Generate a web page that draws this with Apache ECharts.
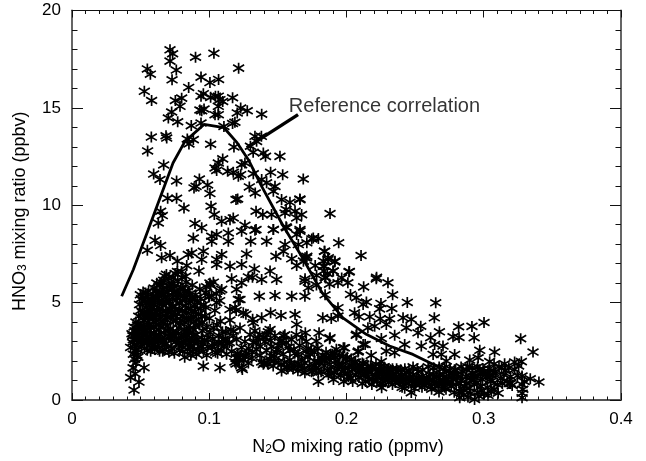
<!DOCTYPE html>
<html><head><meta charset="utf-8">
<script src="https://cdn.jsdelivr.net/npm/echarts@6/dist/echarts.min.js"></script>
<style>html,body{margin:0;padding:0;background:#fff}#c{width:646px;height:461px}</style></head>
<body><div id="c"></div>
<script>
const xTickLabels = ['0','0.1','0.2','0.3','0.4'];
const yTickLabels = ['0','5','10','15','20'];
const refN2O = [.0362,.0447,.0556,.0736,.0823,.0962,.1107,.1204,.1285,.1382,.154,.1673,.1823,.1974,.2144,.2314,.2484,.263,.2752,.285];
const refHNO3 = [5.33,6.7,8.75,12.17,13.28,14.15,13.98,13.2,12.34,10.97,8.92,7.38,5.5,4.22,3.37,2.77,2.34,1.83,1.4,1.1];
const arrowFrom = [.1647,14.65];
const arrowTo = [.1273,12.96];
const labelAt = [.158,15.05];
const upperPoints = [
[.0714,17.98],[.0733,17.78],[.0714,17.4],[.076,16.94],[.09,17.6],[.1034,17.8],[.0549,17],[.0571,16.73],[.0729,16.44],[.094,16.58],[.1005,16.3],[.1068,16.46],[.1214,17.04],[.085,16.05],[.0527,15.85],[.058,15.38],[.0753,15.38],[.0799,15.5],[.0787,15.08],[.0957,15.73],[.094,15.6],[.101,15.54],[.1066,15.6],[.1078,15.42],[.1098,15.33],[.117,15.52],[.1066,15.08],[.1045,15.6],[.0726,14.79],[.0702,14.48],[.077,14.29],[.0932,14.89],[.0962,14.94],[.0945,14.85],[.1042,14.65],[.1066,14.65],[.1229,14.99],[.1204,14.74],[.1277,14.85],[.1382,14.67],[.0869,14.09],[.094,14.22],[.1107,14.05],[.1187,14.26],[.117,14.2],[.0578,13.5],[.0685,13.57],[.069,13.45],[.084,13.4],[.0884,13.37],[.0852,13.15],[.101,13.13],[.0551,12.79],[.118,12.99],[.1333,13.54],[.138,13.54],[.1345,13.28],[.13,13.03],[.132,12.72],[.1394,12.68],[.141,12.51],[.1515,12.51],[.1098,12.38],[.1066,12.17],[.1042,11.91],[.1054,11.79],[.126,12.17],[.1236,12.08],[.0668,12.07],[.0595,11.6],[.0641,11.32],[.0762,11.25],[.1134,11.74],[.1175,11.69],[.1212,11.49],[.1229,11.57],[.1321,11.62],[.1447,11.69],[.1535,11.57],[.1685,11.35],[.0928,11.35],[.0904,10.97],[.0889,10.89],[.0988,11.04],[.1292,10.94],[.1382,11.32],[.1418,11.15],[.1479,10.97],[.1467,10.72],[.1005,10.6],[.1335,10.63],[.0697,10.36],[.0762,10.36],[.0816,9.86],[.1195,10.29],[.1207,10.32],[.1527,10.29],[.1588,10.15],[.1661,10.29],[.1013,9.95],[.1037,9.52],[.1341,9.69],[.139,9.52],[.1454,9.52],[.1552,9.6],[.156,9.78],[.1625,9.69],[.1673,9.52],[.1637,9.35],[.0646,9.69],[.0658,9.47],[.0629,9.09],[.109,9.18],[.1151,9.26],[.1175,9.35],[.0896,9.06],[.0945,8.84],[.126,8.97],[.1341,8.75],[.1467,8.75],[.156,8.89],[.1661,8.75],[.188,9.57],[.166,10.32]
];
const middlePoints = [
[.0605,8.2],[.0646,7.93],[.0549,7.69],[.0884,8.32],[.0872,7.55],[.0957,7.64],[.0945,7.21],[.0847,7.47],[.1018,8.41],[.1054,8.5],[.1018,8.15],[.1139,8.58],[.1139,8.15],[.1236,8.67],[.1333,8.72],[.1302,8.15],[.1418,8.15],[.1467,8.75],[.1552,7.98],[.154,7.64],[.1564,8.84],[.1661,8.67],[.1637,8.5],[.1758,8.32],[.1795,8.29],[.1747,8.27],[.1943,8.07],[.1711,8.07],[.1649,7.98],[.1839,7.64],[.2106,7.42],[.1711,7.38],[.1868,7.3],[.1916,7.13],[.1831,7.13],[.1831,6.87],[.1835,6.62],[.1904,6.62],[.2021,6.6],[.1686,7.13],[.1698,7.3],[.1637,6.9],[.1601,7.25],[.2219,6.3],[.1965,6.27],[.1844,6.3],[.1698,6.22],[.0653,7.3],[.0714,7.42],[.0768,7.13],[.0836,6.9],[.0925,6.62],[.1272,7.5],[.1091,7.47],[.1054,7.21],[.1054,6.96],[.1236,6.96],[.1151,6.87],[.1486,7.38],[.1709,7.3],[.1329,6.73],[.1443,6.62],[.1163,6.22],[.1285,6.32],[.1315,6.3],[.1382,6.19],[.1491,6.19],[.1697,6.1],[.1236,6.02],[.1199,5.68],[.103,6.05],[.1091,5.68],[.1224,5.16],[.1365,5.33],[.1479,5.37],[.1601,5.33],[.1697,5.33],[.1722,5.76],[.1188,4.74],[.0981,5.81],[.1,5.3],[.1054,5.0],[.1196,4.6],[.1267,4.4],[.1316,4.15],[.1447,4.48],[.1523,4.34],[.1625,4.39],[.1637,3.88],[.1827,4.22],[.1382,4.22],[.1321,3.97],[.1443,3.62],[.154,3.28],[.17,3.45],[.18,3.45],[.188,3.2],[.178,3.03],[.2074,3.37],[.2136,2.85],[.1977,2.68],[.2087,2.51],[.1781,5.9],[.1782,6.4],[.1844,5.4],[.1876,5.95],[.186,6.5],[.1772,6.9],[.1889,4.18]
];
const denseCluster = [
[.0447,3.1],[.0427,2.7],[.0437,3.4],[.0452,3.75],[.0447,2.35],[.0456,2.85],[.0461,3.3],[.0466,4.0],[.0471,2.6],[.0476,3.55],[.0456,2.1],[.0466,1.9],[.0481,2.95],[.0486,4.3],[.0491,3.2],[.0496,3.8],[.0501,4.6],[.0506,2.75],[.0511,3.4],[.0516,5.1],[.0521,4.1],[.0526,2.9],[.0531,3.6],[.0536,5.5],[.0541,4.75],[.0546,3.1],[.0551,5.3],[.0556,4.2],[.0561,2.8],[.0566,3.9],[.0571,5.0],[.0576,3.4],[.0581,4.55],[.0586,2.65],[.0591,5.35],[.0596,3.75],[.0601,4.9],[.0606,3.1],[.0611,5.6],[.0616,4.35],[.0621,2.75],[.0626,5.2],[.0631,3.6],[.0636,4.7],[.0641,5.9],[.0646,3.15],[.0651,6.05],[.0656,4.05],[.0661,2.5],[.0666,5.45],[.0671,3.45],[.0676,6.35],[.0681,4.6],[.0686,2.9],[.0691,5.75],[.0696,3.8],[.0701,6.25],[.0706,2.45],[.0711,5.05],[.0716,4.25],[.0721,3.05],[.0726,6.0],[.0731,4.8],[.0736,3.5],[.0741,5.5],[.0746,2.4],[.0751,6.5],[.0756,4.1],[.0761,3.0],[.0766,5.25],[.0771,6.1],[.0776,3.7],[.0781,4.65],[.0786,2.55],[.0791,5.75],[.0796,3.3],[.0801,6.3],[.0806,4.3],[.0811,2.9],[.0816,5.35],[.0821,2.2],[.0826,4.85],[.0831,6.05],[.0836,3.55],[.0841,2.6],[.0846,5.6],[.0851,4.1],[.0856,3.1],[.0861,5.05],[.0866,2.3],[.0871,4.55],[.0876,5.9],[.0881,3.3],[.0886,2.6],[.0891,4.8],[.0896,3.85],[.0901,5.4],[.0906,2.35],[.0911,3.1],[.0921,4.4],[.0931,5.7],[.0941,2.75],[.0951,3.55],[.0961,4.9],[.0971,5.5],[.0981,2.3],[.0991,3.2],[.1001,4.2],[.1011,5.9],[.1021,2.7],[.1031,3.7],[.1041,4.6],[.1051,5.45],[.1061,2.4],[.1071,3.3],[.1081,4.05],[.1091,2.9],[.0957,1.74],[.1078,1.66],[.0525,1.66],[.0427,1.15],[.0488,.92],[.0452,.51],[.046,1.35],[.0445,1.65],[.048,2.2],
[.0441,2.95],[.0462,2.5],[.0478,3.85],[.0498,3.0],[.0513,4.5],[.0523,3.3],[.0538,4.3],[.0549,3.65],[.0563,4.85],[.0578,5.2],[.0593,3.0],[.0608,4.0],[.0623,4.6],[.0638,3.35],[.0653,4.9],[.0668,3.95],[.0683,5.3],[.0698,4.5],[.0713,3.4],[.0728,5.7],[.0743,4.35],[.0758,5.1],[.0773,2.9],[.0788,3.95],[.0803,5.1],[.0818,3.6],[.0833,4.5],[.0848,2.85],[.0863,3.7],[.0878,2.5],[.0893,5.2],[.0908,4.1],[.0923,2.55],[.0938,5.2],[.0953,2.9],[.0968,4.3],[.0983,3.75],[.0498,5.4],[.0518,5.55],[.0558,5.6],[.0598,5.75],[.0658,5.7],[.0678,2.6],[.0728,2.65],[.0808,2.5],[.0508,3.65],[.0528,2.65],[.0548,2.55],[.0573,2.5],[.0603,2.6],[.0638,2.5],[.0668,3.0],[.0468,3.15],[.0488,3.5],[.0458,3.55],[.0443,3.3],[.0473,2.3]
];
const denseExtra = [
[.0492,4.9],[.0505,5.2],[.0512,3.0],[.0519,3.85],[.0528,4.4],[.0533,5.05],[.0539,3.4],[.0544,2.95],[.0549,4.5],[.0553,3.85],[.0558,5.05],[.0563,3.25],[.0568,4.3],[.0573,3.7],[.0578,4.7],[.0583,3.05],[.0588,4.2],[.0592,5.05],[.0598,3.45],[.0603,4.45],[.0608,5.25],[.0613,3.3],[.0618,3.85],[.0623,5.45],[.0628,3.0],[.0633,4.15],[.0638,5.05],[.0643,4.4],[.0648,3.75],[.0653,5.45],[.0658,3.05],[.0663,4.55],[.0668,5.05],[.0673,2.85],[.0678,4.15],[.0683,3.6],[.0688,5.05],[.0693,4.25],[.0698,5.5],[.0703,3.25],[.0708,4.7],[.0713,5.85],[.0718,3.65],[.0723,4.5],[.0728,3.25],[.0733,5.25],[.0738,4.05],[.0743,5.85],[.0748,3.3],[.0753,4.65],[.0758,5.6],[.0763,3.5],[.0768,4.4],[.0773,5.5],[.0778,3.15],[.0783,4.95],[.0788,5.35],[.0793,4.1],[.0798,2.75],[.0803,4.6],[.0808,5.75],[.0813,3.25],[.0818,4.0],[.0823,5.6],[.0828,3.05],[.0833,5.25],[.0838,4.2],[.0843,3.3],[.0848,4.7],[.0853,3.6],[.0858,5.45],[.0863,2.7],[.0868,4.15],[.0873,3.05],[.0878,5.2],[.0883,4.3],[.0888,3.6],[.0893,2.9],[.0898,4.55],[.0903,3.35],[.0913,5.0],[.0918,2.95],[.0928,3.85],[.0935,4.7],[.0943,3.2],[.0948,4.0],[.0958,2.5],[.0966,3.05],[.0975,4.75],[.0988,2.75],[.0996,5.3],[.1006,3.45],[.1016,5.35],[.1026,3.15],[.1036,2.9],[.1046,2.45],[.1056,3.85],[.1066,2.95],[.1076,5.1],[.1086,2.55],[.1096,3.5],[.1106,2.75],[.1116,3.15],[.1126,2.35],[.1146,2.95],[.1158,3.6],
[.0618,6.0],[.0668,6.15],[.0688,6.45],[.0738,6.3],[.0768,6.6],[.0798,6.6],[.0828,6.35],[.1005,6.0],[.1078,5.6],[.1212,5.16],[.1151,4.65],[.0945,4.3],[.1175,3.54],[.1248,4.48],[.1199,2.17],[.1236,1.66],[.1208,2.4],[.122,2.05],[.1195,1.85],[.1225,2.3]
];
const lowerBand = [
[.1101,3.1],[.112,3.5],[.1134,2.9],[.1151,4.1],[.1163,2.5],[.1175,3.3],[.1187,1.95],[.1199,3.1],[.1212,2.2],[.1224,3.7],[.1241,1.57],[.1236,2.7],[.1248,2.05],[.126,3.0],[.1272,2.4],[.1285,1.9],[.1297,3.35],[.1309,2.15],[.1321,2.95],[.1333,3.55],[.1345,2.6],[.1357,3.2],[.137,2.3],[.1382,1.95],[.1394,1.83],[.1406,3.0],[.1418,2.55],[.143,3.5],[.1442,2.1],[.1454,2.75],[.1466,1.75],[.1478,3.3],[.149,2.45],[.1502,1.95],[.1527,1.49],[.1515,3.0],[.1539,2.35],[.1551,3.35],[.1563,1.7],[.1575,2.7],[.1587,2.05],[.1599,3.1],[.1611,1.6],[.1623,2.4],[.1635,3.35],[.1647,1.85],[.1659,2.8],[.1671,2.1],[.1697,1.4],[.1683,1.6],[.1707,3.0],[.1719,2.2],[.1731,1.75],[.1743,2.55],[.1755,1.5],[.1767,2.0],[.1779,1.65],[.1791,2.65],[.1803,1.95],[.1815,1.45],[.1827,2.3],[.1839,1.75],[.1851,2.45],[.1863,1.5],[.1875,2.05],[.1887,1.7],[.1899,2.35],[.1911,1.4],[.1923,2.0],[.1935,1.6],[.1947,2.3],[.1959,1.25],[.1971,1.85],[.1983,1.5],[.1995,2.1],[.2007,1.35],[.2019,1.75],[.2031,1.1],[.2043,1.55],[.2055,1.95],[.2067,1.3],[.2079,1.7],[.2091,1.15],[.2103,1.5],[.2115,1.9],[.2127,1.25],[.2139,.95],[.2151,1.45],[.2163,1.05],[.2175,1.75],[.2187,1.3],[.2199,.95],[.2211,1.55],[.2223,1.15],[.2235,1.4],[.2247,.85],[.2259,1.2],[.2271,1.6],[.2283,1.0],[.2295,1.35],[.2307,.9],[.2319,1.55],[.2331,1.1],[.2343,1.3],[.2355,.9],[.2367,1.2],[.2379,1.5],[.2391,.95],[.2403,1.25],[.2415,.8],[.2427,1.1],[.2439,1.4],[.2451,.85],[.2463,1.15],[.2475,.95],[.2487,1.3],[.2499,.8],[.2511,1.05],[.2523,1.45],[.2535,.85],[.2547,1.2],[.2559,.95],[.2571,.75],[.2583,1.15],[.2595,.9],[.2607,1.3],[.2619,.7],[.2631,1.05],[.2643,.85],[.2655,1.25],[.2667,.7],[.2679,1.0],[.2691,.85],[.2703,1.3],[.2715,.65],[.2727,1.1],[.2739,.9],[.2751,1.35],[.2763,.7],[.2775,1.05],[.2787,1.55],[.2799,.8],[.2811,1.2],[.2823,.45],[.2835,1.0],[.2847,1.45],[.2859,.7],[.2871,1.2],[.2883,1.7],[.2895,.6],[.2907,1.0],[.2919,1.4],[.2931,.8],[.2943,1.15],[.2955,.4],[.2967,1.55],[.2979,.7],[.2991,1.05],[.3003,.3],[.3015,1.3],[.3027,.65],[.3039,1.6],[.3051,.95],[.3063,1.25],[.3075,.55],[.3087,1.45],[.3099,.8],[.3111,1.7],[.3123,1.1],[.3135,.85],[.3147,1.3],[.3159,1.5],[.3171,.95],[.3183,1.65],[.3195,1.2],[.3207,.75]
];
const lowerExtra = [
[.1371,2.75],[.1401,1.9],[.1426,1.85],[.1451,2.25],[.1473,2.0],[.1498,2.6],[.1523,1.8],[.1548,1.95],[.1573,1.6],[.1597,1.85],[.1622,1.8],[.1646,1.5],[.167,1.75],[.1695,1.9],[.172,2.65],[.1745,1.45],[.1769,1.75],[.1794,1.4],[.1818,2.15],[.1843,2.0],[.1868,1.3],[.1892,1.35],[.1917,2.2],[.1942,1.75],[.1966,1.45],[.1991,1.65],[.2015,1.2],[.204,1.75],[.2065,1.6],[.2089,1.4],[.2114,1.55],[.2138,1.3],[.2163,1.5],[.2188,1.05],[.2212,1.25],[.2237,1.5],[.2262,1.4],[.2286,1.2],[.2311,1.15],[.2335,1.35],[.236,1.05],[.2385,1.1],[.2409,1.0],[.2434,1.05],[.2458,1.1],[.2483,1.05],[.2508,.95],[.2532,1.05],[.2557,1.1],[.2582,.9],[.2606,1.05],[.2631,1.3],[.2655,.9],[.268,1.3],[.2705,.95],[.2729,1.05],[.2754,.95],[.2778,1.1],[.2803,1.3],[.2828,.85],[.2852,.5],[.2877,.85],[.2902,1.15],[.2926,1.2],[.2951,.9],[.2975,1.3],[.3,1.45],[.3025,1.2],[.3049,1.05],[.3074,1.4]
];
const lowerMass = [
[.1262,2.25],[.1288,2.65],[.1315,2.45],[.1342,2.95],[.1368,3.35],[.1395,3.2],[.142,3.35],[.1447,3.05],[.1474,2.25],[.1503,2.8],[.153,3.05],[.156,2.95],[.1588,2.55],[.1617,2.6],[.1647,2.35],[.1676,3.2],[.1705,2.5],[.1735,2.35],[.1765,2.45],[.1795,1.95],[.1825,2.05],[.1855,2.2],[.1885,2.25],[.1915,2.4],[.1945,1.85],[.1975,2.25],[.2005,2.2],[.2035,2.1],[.2065,1.95],[.2095,1.75],[.2125,1.85],[.2155,1.7],[.2185,1.65],[.2215,1.85],[.2245,1.75],[.2275,1.7],[.2305,1.6],[.2335,1.6],[.2365,1.6],[.2395,1.55],[.2425,1.6],[.2455,1.5],[.2485,1.7],[.2515,1.6],[.2555,1.55],[.2595,1.7],[.2635,1.65],[.2675,1.7],[.2715,1.65],[.2755,1.6],[.2795,1.55],[.2835,1.7],[.2875,1.55],[.2915,1.65],[.2955,1.7],[.2995,1.6],[.3035,1.45],[.3075,1.85],
[.1795,.95],[.1905,1.05],[.198,.95],[.2045,.95],[.2115,.85],[.2185,.8],[.2265,.85],[.2335,.8],[.2405,.65],[.2495,.6],[.255,.65],[.262,.55],[.2725,.55],[.2785,.4],[.2855,.25],[.2885,.15],[.2905,.35],[.2965,.2],[.2985,.5],[.3055,.45],[.3105,.35],[.3185,.85],[.3245,1.25],[.3295,.95]
];
const tailPoints = [
[.1841,7.64],[.1865,7.21],[.1914,7.09],[.184,6.87],[.1902,6.62],[.2018,6.58],[.1848,6.27],[.1938,6.02],[.201,6.02],[.2217,6.22],[.2302,6.02],[.2125,5.81],[.2336,5.4],[.2029,5.42],[.2072,5.25],[.2145,5.03],[.2121,4.91],[.2443,5.01],[.265,4.99],[.2251,4.96],[.2241,4.68],[.233,4.7],[.1938,4.74],[.1938,4.31],[.2059,4.48],[.2091,4.27],[.2169,4.27],[.2246,4.17],[.2314,4.17],[.2412,4.22],[.2472,4.14],[.264,4.22],[.3002,3.98],[.2914,3.78],[.2817,3.76],[.2541,3.79],[.2436,3.71],[.229,3.88],[.2205,3.79],[.2156,3.71],[.2677,3.5],[.2521,3.45],[.2351,3.32],[.2071,3.32],[.2613,3.2],[.2776,3.25],[.282,3.21],[.293,3.2],[.3269,3.15],[.1877,3.15],[.2254,3.16],[.2121,2.85],[.2424,2.85],[.2545,2.77],[.2703,2.77],[.2642,2.85],[.3359,2.46],[.2971,2.55],[.3079,2.46],[.1986,2.68],[.1926,2.6],[.229,2.51],[.2351,2.43],[.2084,2.46],[.218,2.29],[.2788,2.34],[.2691,2.34],[.2631,2.34],[.2959,2.17],[.2898,2.05],[.3043,1.97],[.3152,1.86],[.3274,1.97],[.2254,1.97],[.2727,2],[.313,1.66],[.3225,1.57],[.3279,1.23],[.3339,1.09],[.3402,.92],[.3196,.85],[.3279,.8],[.3285,.55],[.3279,.12],[.2933,.03],[.2825,.12],[.2837,.38],[.3031,.24],[.2674,.41],[.2472,.38],[.2424,.6],[.2256,.63],[.3254,1.75],[.3225,1.95],[.328,.35]
];
const chart = echarts.init(document.getElementById('c'));
const star = 'path://M5 0L5 10M.9 2L9.1 8M.9 8L9.1 2';
const axisText = {fontFamily:'Liberation Sans',fontSize:17,color:'#000'};
const titleText = {fontFamily:'Liberation Sans',fontSize:18,color:'#000'};
const xBase = (pos, show)=>({type:'value',position:pos,min:0,max:0.4,interval:0.1,
  axisLine:{show:true,onZero:false,lineStyle:{color:pos==='top'?'#111':'#555',width:pos==='top'?1.2:1.8}},
  axisTick:{show:true,inside:true,length:7,lineStyle:{color:'#111',width:1}},
  minorTick:{show:true,splitNumber:10,length:3.5,lineStyle:{color:'#111',width:1}},
  splitLine:{show:false},
  axisLabel:{show:show,margin:11,...axisText,formatter:v=>xTickLabels[Math.round(v*10)]}});
const yBase = (pos, show)=>({type:'value',position:pos,min:0,max:20,interval:5,
  axisLine:{show:true,onZero:false,lineStyle:{color:'#555',width:1.8}},
  axisTick:{show:true,inside:true,length:11,lineStyle:{color:'#111',width:1}},
  minorTick:{show:true,splitNumber:5,length:5.5,lineStyle:{color:'#111',width:1}},
  splitLine:{show:false},
  axisLabel:{show:show,margin:11,...axisText,padding:[4,0,0,0],formatter:v=>yTickLabels[Math.round(v/5)]}});
const sub = {sub:{fontFamily:'Liberation Sans',fontSize:12,color:'#000',verticalAlign:'bottom',lineHeight:16}};
const xA = xBase('bottom',true);
Object.assign(xA,{name:'N{sub|2}O mixing ratio (ppmv)',nameLocation:'middle',nameGap:38,nameTextStyle:{...titleText,rich:sub,padding:[0,0,0,3]}});
const yA = yBase('left',true);
Object.assign(yA,{name:'HNO{sub|3} mixing ratio (ppbv)',nameLocation:'middle',nameGap:43,nameTextStyle:{...titleText,rich:sub,padding:[0,12,0,0]}});
chart.setOption({
  animation:false,
  backgroundColor:'#fff',
  grid:{left:72,right:25,top:10.5,bottom:60.5},
  xAxis:[xA,xBase('top',false)],
  yAxis:[yA,yBase('right',false)],
  series:[
    {type:'scatter',symbol:star,symbolSize:11,silent:true,large:false,
     itemStyle:{color:'transparent',borderColor:'#000',borderWidth:1.7,opacity:1},
     data:[...upperPoints,...middlePoints,...denseCluster,...denseExtra,...lowerBand,...lowerExtra,...lowerMass,...tailPoints]},
    {type:'line',data:refN2O.map((x,i)=>[x,refHNO3[i]]),showSymbol:false,symbol:'none',smooth:false,
     lineStyle:{color:'#000',width:2.8},z:5},
    {type:'line',data:[arrowFrom,arrowTo],showSymbol:false,symbol:'none',lineStyle:{color:'#000',width:3.4},z:6},
    {type:'scatter',data:[labelAt],symbolSize:0,z:7,
     label:{show:true,position:'right',distance:0,formatter:'Reference correlation',fontFamily:'Liberation Sans',fontSize:20,color:'#000'}}
  ]
});
</script></body></html>
